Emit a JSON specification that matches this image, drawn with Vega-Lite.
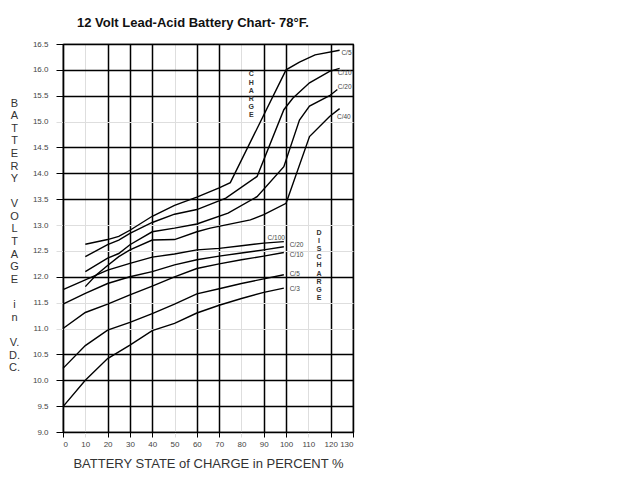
{
  "$schema": "https://vega.github.io/schema/vega-lite/v6.json",
  "width": 290,
  "height": 388,
  "autosize": {"type": "none"},
  "padding": {"left": 63, "top": 44, "right": 287, "bottom": 48},
  "background": "white",
  "title": {
    "text": "12 Volt Lead-Acid Battery Chart- 78°F.",
    "anchor": "start",
    "frame": "group",
    "dx": 14,
    "font": "Liberation Sans",
    "fontSize": 13,
    "fontWeight": "bold",
    "color": "#111",
    "offset": 10
  },
  "config": {
    "font": "Liberation Sans",
    "view": {"stroke": "black", "strokeWidth": 1.2}
  },
  "datasets": {
    "curves": [
      {"curve": "charge C/5", "x": 10, "v": 12.63},
      {"curve": "charge C/5", "x": 20, "v": 12.72},
      {"curve": "charge C/5", "x": 25, "v": 12.78},
      {"curve": "charge C/5", "x": 30, "v": 12.9},
      {"curve": "charge C/5", "x": 40, "v": 13.17},
      {"curve": "charge C/5", "x": 50, "v": 13.38},
      {"curve": "charge C/5", "x": 60, "v": 13.54},
      {"curve": "charge C/5", "x": 70, "v": 13.72},
      {"curve": "charge C/5", "x": 75, "v": 13.82},
      {"curve": "charge C/5", "x": 100, "v": 16.0},
      {"curve": "charge C/5", "x": 106, "v": 16.15},
      {"curve": "charge C/5", "x": 113, "v": 16.29},
      {"curve": "charge C/5", "x": 124, "v": 16.38},

      {"curve": "charge C/10", "x": 10, "v": 12.39},
      {"curve": "charge C/10", "x": 20, "v": 12.62},
      {"curve": "charge C/10", "x": 25, "v": 12.71},
      {"curve": "charge C/10", "x": 30, "v": 12.84},
      {"curve": "charge C/10", "x": 40, "v": 13.05},
      {"curve": "charge C/10", "x": 50, "v": 13.21},
      {"curve": "charge C/10", "x": 60, "v": 13.3},
      {"curve": "charge C/10", "x": 73, "v": 13.52},
      {"curve": "charge C/10", "x": 87, "v": 13.94},
      {"curve": "charge C/10", "x": 99, "v": 15.23},
      {"curve": "charge C/10", "x": 103, "v": 15.45},
      {"curve": "charge C/10", "x": 110.5, "v": 15.75},
      {"curve": "charge C/10", "x": 119.5, "v": 15.97},
      {"curve": "charge C/10", "x": 124, "v": 16.03},

      {"curve": "charge C/20", "x": 10, "v": 12.1},
      {"curve": "charge C/20", "x": 20, "v": 12.36},
      {"curve": "charge C/20", "x": 25, "v": 12.45},
      {"curve": "charge C/20", "x": 30, "v": 12.62},
      {"curve": "charge C/20", "x": 40, "v": 12.87},
      {"curve": "charge C/20", "x": 50, "v": 12.94},
      {"curve": "charge C/20", "x": 60, "v": 13.02},
      {"curve": "charge C/20", "x": 74, "v": 13.23},
      {"curve": "charge C/20", "x": 87, "v": 13.55},
      {"curve": "charge C/20", "x": 99, "v": 14.13},
      {"curve": "charge C/20", "x": 106, "v": 15.03},
      {"curve": "charge C/20", "x": 110.5, "v": 15.3},
      {"curve": "charge C/20", "x": 119.5, "v": 15.5},
      {"curve": "charge C/20", "x": 123, "v": 15.62},

      {"curve": "charge C/40", "x": 10, "v": 11.81},
      {"curve": "charge C/40", "x": 15, "v": 12.04},
      {"curve": "charge C/40", "x": 20, "v": 12.22},
      {"curve": "charge C/40", "x": 25, "v": 12.39},
      {"curve": "charge C/40", "x": 30, "v": 12.52},
      {"curve": "charge C/40", "x": 40, "v": 12.71},
      {"curve": "charge C/40", "x": 50, "v": 12.72},
      {"curve": "charge C/40", "x": 60, "v": 12.87},
      {"curve": "charge C/40", "x": 66, "v": 12.94},
      {"curve": "charge C/40", "x": 84, "v": 13.1},
      {"curve": "charge C/40", "x": 90, "v": 13.2},
      {"curve": "charge C/40", "x": 100, "v": 13.42},
      {"curve": "charge C/40", "x": 110.5, "v": 14.71},
      {"curve": "charge C/40", "x": 119.5, "v": 15.1},
      {"curve": "charge C/40", "x": 124, "v": 15.25},

      {"curve": "discharge C/100", "x": 0, "v": 11.75},
      {"curve": "discharge C/100", "x": 10, "v": 11.94},
      {"curve": "discharge C/100", "x": 20, "v": 12.13},
      {"curve": "discharge C/100", "x": 30, "v": 12.26},
      {"curve": "discharge C/100", "x": 40, "v": 12.38},
      {"curve": "discharge C/100", "x": 50, "v": 12.44},
      {"curve": "discharge C/100", "x": 60, "v": 12.52},
      {"curve": "discharge C/100", "x": 70, "v": 12.55},
      {"curve": "discharge C/100", "x": 80, "v": 12.6},
      {"curve": "discharge C/100", "x": 90, "v": 12.65},
      {"curve": "discharge C/100", "x": 99, "v": 12.68},

      {"curve": "discharge C/20", "x": 0, "v": 11.47},
      {"curve": "discharge C/20", "x": 10, "v": 11.68},
      {"curve": "discharge C/20", "x": 20, "v": 11.87},
      {"curve": "discharge C/20", "x": 30, "v": 12.0},
      {"curve": "discharge C/20", "x": 40, "v": 12.1},
      {"curve": "discharge C/20", "x": 50, "v": 12.23},
      {"curve": "discharge C/20", "x": 60, "v": 12.33},
      {"curve": "discharge C/20", "x": 70, "v": 12.4},
      {"curve": "discharge C/20", "x": 80, "v": 12.46},
      {"curve": "discharge C/20", "x": 90, "v": 12.52},
      {"curve": "discharge C/20", "x": 99, "v": 12.58},

      {"curve": "discharge C/10", "x": 0, "v": 11.0},
      {"curve": "discharge C/10", "x": 10, "v": 11.31},
      {"curve": "discharge C/10", "x": 20, "v": 11.47},
      {"curve": "discharge C/10", "x": 30, "v": 11.65},
      {"curve": "discharge C/10", "x": 40, "v": 11.82},
      {"curve": "discharge C/10", "x": 50, "v": 12.0},
      {"curve": "discharge C/10", "x": 60, "v": 12.16},
      {"curve": "discharge C/10", "x": 70, "v": 12.25},
      {"curve": "discharge C/10", "x": 80, "v": 12.33},
      {"curve": "discharge C/10", "x": 90, "v": 12.4},
      {"curve": "discharge C/10", "x": 99, "v": 12.47},

      {"curve": "discharge C/5", "x": 0, "v": 10.23},
      {"curve": "discharge C/5", "x": 10, "v": 10.67},
      {"curve": "discharge C/5", "x": 20, "v": 10.97},
      {"curve": "discharge C/5", "x": 30, "v": 11.12},
      {"curve": "discharge C/5", "x": 40, "v": 11.29},
      {"curve": "discharge C/5", "x": 50, "v": 11.47},
      {"curve": "discharge C/5", "x": 60, "v": 11.67},
      {"curve": "discharge C/5", "x": 70, "v": 11.77},
      {"curve": "discharge C/5", "x": 80, "v": 11.87},
      {"curve": "discharge C/5", "x": 90, "v": 11.96},
      {"curve": "discharge C/5", "x": 99, "v": 12.04},

      {"curve": "discharge C/3", "x": 0, "v": 9.49},
      {"curve": "discharge C/3", "x": 10, "v": 10.0},
      {"curve": "discharge C/3", "x": 20, "v": 10.42},
      {"curve": "discharge C/3", "x": 30, "v": 10.68},
      {"curve": "discharge C/3", "x": 40, "v": 10.96},
      {"curve": "discharge C/3", "x": 50, "v": 11.1},
      {"curve": "discharge C/3", "x": 60, "v": 11.3},
      {"curve": "discharge C/3", "x": 70, "v": 11.45},
      {"curve": "discharge C/3", "x": 80, "v": 11.58},
      {"curve": "discharge C/3", "x": 90, "v": 11.7},
      {"curve": "discharge C/3", "x": 99, "v": 11.78}
    ],
    "labels": [
      {"label": "C/5", "x": 124.8, "v": 16.33},
      {"label": "C/10", "x": 123.2, "v": 15.94},
      {"label": "C/20", "x": 123.2, "v": 15.67},
      {"label": "C/40", "x": 122.8, "v": 15.09},
      {"label": "C/100", "x": 91.7, "v": 12.75},
      {"label": "C/20", "x": 101.6, "v": 12.61},
      {"label": "C/10", "x": 101.6, "v": 12.42},
      {"label": "C/5", "x": 101.6, "v": 12.05},
      {"label": "C/3", "x": 101.6, "v": 11.77}
    ],
    "words": [
      {"word": "C\nH\nA\nR\nG\nE", "x": 84.4, "v": 15.99},
      {"word": "D\nI\nS\nC\nH\nA\nR\nG\nE", "x": 114.8, "v": 12.93}
    ]
  },
  "encoding": {
    "x": {
      "field": "x",
      "type": "quantitative",
      "scale": {"domain": [0, 130], "nice": false, "zero": false},
      "axis": {
        "values": [0, 10, 20, 30, 40, 50, 60, 70, 80, 90, 100, 110, 120, 130],
        "labelOverlap": false,
        "title": "BATTERY STATE of CHARGE in PERCENT %",
        "titleFont": "Liberation Sans",
        "titleFontSize": 13,
        "titleFontWeight": "normal",
        "titleColor": "#333",
        "titlePadding": 9,
        "labelFont": "Liberation Sans",
        "labelFontSize": 8,
        "labelColor": "#444",
        "labelPadding": 3,
        "tickSize": 5,
        "domainColor": "black",
        "domainWidth": 1.2,
        "grid": true,
        "gridColor": {"condition": {"test": "indexof([10, 50, 80, 110], datum.value) >= 0", "value": "#dedede"}, "value": "black"},
        "gridWidth": {"condition": {"test": "indexof([10, 50, 80, 110], datum.value) >= 0", "value": 1}, "value": 1.5},
        "tickColor": {"condition": {"test": "indexof([10, 50, 80, 110], datum.value) >= 0", "value": "#dedede"}, "value": "black"}
      }
    },
    "y": {
      "field": "v",
      "type": "quantitative",
      "scale": {"domain": [9, 16.5], "nice": false, "zero": false},
      "axis": {
        "values": [9, 9.5, 10, 10.5, 11, 11.5, 12, 12.5, 13, 13.5, 14, 14.5, 15, 15.5, 16, 16.5],
        "labelOverlap": false,
        "format": ".1f",
        "title": ["B", "A", "T", "T", "E", "R", "Y", "\u2800", "V", "O", "L", "T", "A", "G", "E", "\u2800", "i", "n", "\u2800", "V.", "D.", "C."],
        "titleAngle": 0,
        "titleAlign": "center",
        "titleBaseline": "top",
        "titleX": -49,
        "titleY": 53,
        "titleLineHeight": 12.6,
        "titleFont": "Liberation Sans",
        "titleFontSize": 11,
        "titleFontWeight": "normal",
        "titleColor": "#333",
        "labelFont": "Liberation Sans",
        "labelFontSize": 8,
        "labelColor": "#444",
        "labelPadding": 8,
        "tickSize": 7,
        "domainColor": "black",
        "domainWidth": 1.2,
        "grid": true,
        "gridColor": {"condition": {"test": "indexof([11, 11.5, 12.5, 13, 15], datum.value) >= 0", "value": "#dedede"}, "value": "black"},
        "gridWidth": {"condition": {"test": "indexof([11, 11.5, 12.5, 13, 15], datum.value) >= 0", "value": 1}, "value": 1.5},
        "tickColor": {"condition": {"test": "indexof([11, 11.5, 12.5, 13, 15], datum.value) >= 0", "value": "#dedede"}, "value": "black"}
      }
    }
  },
  "layer": [
    {
      "data": {"name": "curves"},
      "mark": {"type": "line", "color": "black", "strokeWidth": 1.4},
      "encoding": {
        "detail": {"field": "curve", "type": "nominal"}
      }
    },
    {
      "data": {"name": "labels"},
      "mark": {"type": "text", "align": "left", "baseline": "middle", "fontSize": 6.5, "color": "#444", "font": "Liberation Sans"},
      "encoding": {
        "text": {"field": "label", "type": "nominal"}
      }
    },
    {
      "data": {"name": "words"},
      "mark": {"type": "text", "align": "center", "baseline": "top", "fontSize": 7, "fontWeight": "bold", "lineHeight": 8.2, "lineBreak": "\n", "color": "#333", "font": "Liberation Sans"},
      "encoding": {
        "text": {"field": "word", "type": "nominal"}
      }
    }
  ]
}
